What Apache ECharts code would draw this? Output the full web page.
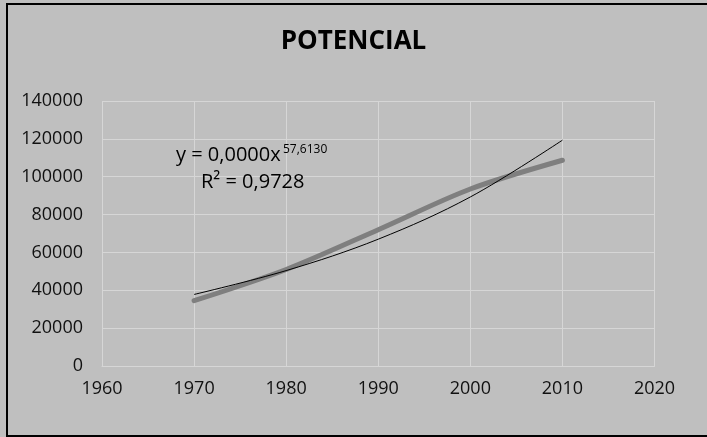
<!DOCTYPE html>
<html>
<head>
<meta charset="utf-8">
<script src="https://cdn.jsdelivr.net/npm/echarts@6/dist/echarts.min.js"></script>
<style>html,body{margin:0;padding:0;background:#fff;}#c{width:707px;height:437px;}</style>
</head>
<body>
<div id="c"></div>
<script>
var years = [1970, 1980, 1990, 2000, 2010];
var values = [34500, 51000, 72000, 93500, 108700];
var trendValues = [37800, 50400, 67000, 89300, 119300];
var xTicks = [1960, 1970, 1980, 1990, 2000, 2010, 2020];
var yTicks = [0, 20000, 40000, 60000, 80000, 100000, 120000, 140000];

var chart = echarts.init(document.getElementById('c'));
var font = '"Open Sans", sans-serif';
chart.setOption({
  backgroundColor: '#bfbfbf',
  animation: false,
  title: {
    text: 'POTENCIAL', left: 'center', top: 24,
    textStyle: { fontFamily: font, fontSize: 26, fontWeight: 'bold', color: '#000' }
  },
  grid: { left: 102, right: 52.5, top: 101, bottom: 71, containLabel: false },
  xAxis: {
    type: 'value', min: xTicks[0], max: xTicks[xTicks.length - 1], interval: 10,
    axisLine: { show: true, lineStyle: { color: '#d6d6d6' } },
    axisTick: { show: false },
    splitLine: { show: true, lineStyle: { color: '#d6d6d6', width: 1 } },
    axisLabel: { fontFamily: font, fontSize: 18, color: '#111', margin: 14, formatter: function (v) { return String(v); } }
  },
  yAxis: {
    type: 'value', min: yTicks[0], max: yTicks[yTicks.length - 1], interval: 20000,
    axisLine: { show: false },
    axisTick: { show: false },
    splitLine: { show: true, lineStyle: { color: '#d6d6d6', width: 1 } },
    axisLabel: { fontFamily: font, fontSize: 18, color: '#111', margin: 19, formatter: function (v) { return String(v); } }
  },
  series: [
    {
      type: 'line', data: years.map(function (y, i) { return [y, values[i]]; }),
      symbol: 'none', smooth: 0.3,
      lineStyle: { color: '#7f7f7f', width: 5, cap: 'round' }, z: 2
    },
    {
      type: 'line', data: years.map(function (y, i) { return [y, trendValues[i]]; }),
      symbol: 'none', smooth: 0.35,
      lineStyle: { color: '#000', width: 1 }, z: 3
    }
  ],
  graphic: [
    {
      type: 'rect', shape: { x: 7, y: 4, width: 702, height: 432 },
      style: { fill: 'none', stroke: '#000', lineWidth: 2 }, silent: true, z: 100
    },
    {
      type: 'text', left: 176, top: 145, z: 50,
      style: { text: 'y = 0,0000x', fontFamily: font, fontSize: 20, fill: '#000' }
    },
    {
      type: 'text', left: 283, top: 144, z: 50,
      style: { text: '57,6130', fontFamily: font, fontSize: 12, fill: '#000' }
    },
    {
      type: 'text', left: 201, top: 172, z: 50,
      style: { text: 'R² = 0,9728', fontFamily: font, fontSize: 20, fill: '#000' }
    }
  ]
});
</script>
</body>
</html>
